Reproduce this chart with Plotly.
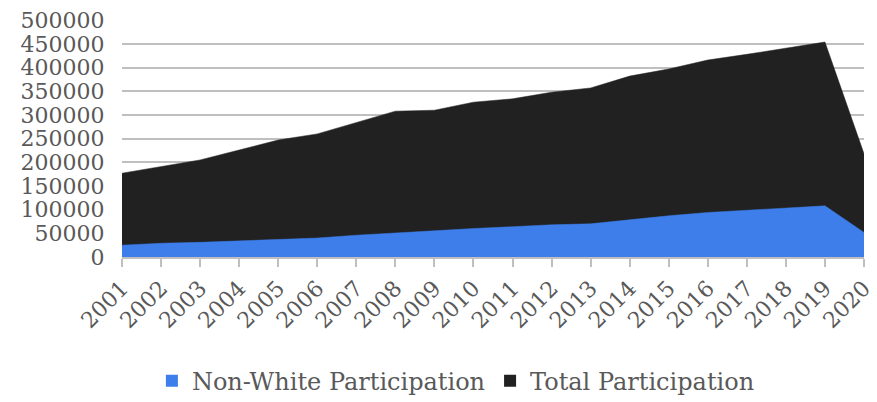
import plotly.graph_objects as go

years = [str(y) for y in range(2001, 2021)]
total_participation = [177000, 191000, 205000, 226000, 247000, 260000, 284000, 308000, 310000, 327000,
                       334000, 348000, 357000, 382000, 397000, 416000, 428000, 441000, 454000, 218000]
nonwhite_participation = [25000, 29000, 31000, 34000, 37000, 40000, 46000, 51000, 55000, 60000,
                          64000, 68000, 70000, 79000, 87000, 94000, 99000, 104000, 108000, 52000]
y_ticks = [0, 50000, 100000, 150000, 200000, 250000, 300000, 350000, 400000, 450000, 500000]

BLUE = "#3D7EEB"
BLACK = "#212121"
GRID = "#BFBFBF"
TEXT = "#595959"
FONT = "DejaVu Serif"

fig = go.Figure()
fig.add_trace(go.Scatter(x=years, y=total_participation, mode="lines", fill="tozeroy",
                         line=dict(color=BLACK, width=0.5), fillcolor=BLACK,
                         name="Total Participation", showlegend=False))
fig.add_trace(go.Scatter(x=years, y=nonwhite_participation, mode="lines", fill="tozeroy",
                         line=dict(color=BLUE, width=0.5), fillcolor=BLUE,
                         name="Non-White Participation", showlegend=False))
# legend entries (square swatches)
fig.add_trace(go.Scatter(x=[None], y=[None], mode="markers",
                         marker=dict(symbol="square", size=17, color=BLUE),
                         name="Non-White Participation"))
fig.add_trace(go.Scatter(x=[None], y=[None], mode="markers",
                         marker=dict(symbol="square", size=17, color=BLACK),
                         name="Total Participation"))

# page body adds an 8px margin, so the figure is sized/offset for the 877x402 window
fig.update_layout(
    width=867, height=394,
    margin=dict(l=114, r=11, t=12, b=145),
    paper_bgcolor="white", plot_bgcolor="white",
    font=dict(family=FONT, size=22, color=TEXT),
    showlegend=True,
    legend=dict(orientation="h", xref="paper", x=0.45, xanchor="center",
                yref="container", y=0.053, yanchor="middle",
                font=dict(family=FONT, size=24, color=TEXT), itemsizing="constant",
                itemwidth=30, tracegroupgap=0),
    xaxis=dict(type="category", range=[0, 19], tickmode="array", tickvals=years, ticktext=years,
               tickangle=-45, showgrid=False, showline=True, linecolor=GRID, linewidth=1.5,
               ticks="outside", ticklen=8, tickcolor=GRID, tickwidth=1.5, automargin=False,
               ticklabeloverflow="allow",
               tickfont=dict(family=FONT, size=22, color=TEXT), zeroline=False),
    yaxis=dict(range=[0, 500500], tickmode="array", tickvals=y_ticks,
               ticktext=[str(v) for v in y_ticks], automargin=False, ticklabeloverflow="allow",
               showgrid=True, gridcolor=GRID, gridwidth=1.5, zeroline=False, showline=False,
               ticks="outside", ticklen=12, tickcolor="rgba(0,0,0,0)",
               tickfont=dict(family=FONT, size=22, color=TEXT)),
)

fig.write_html("out.html")
